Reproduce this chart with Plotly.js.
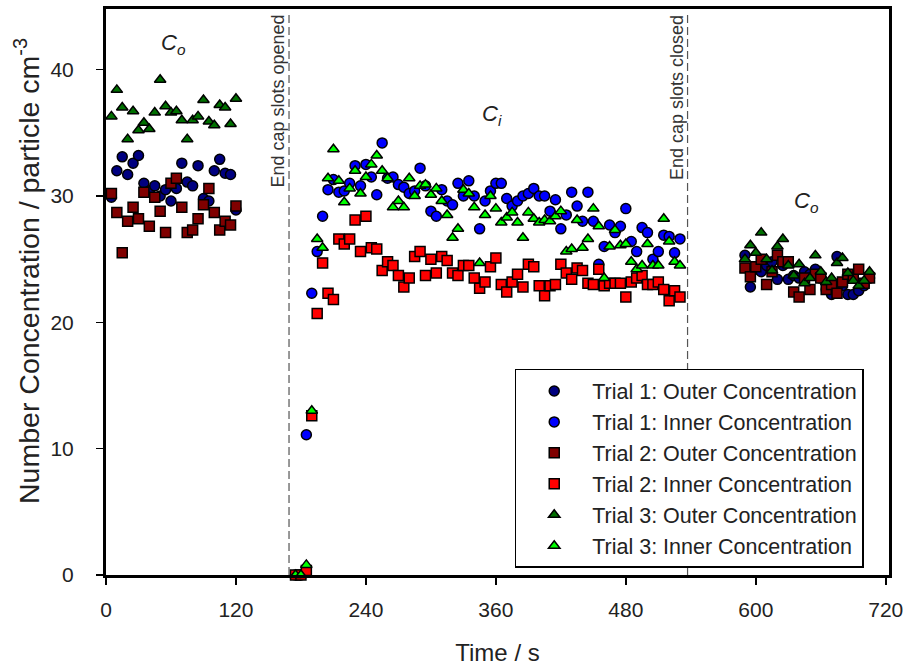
<!DOCTYPE html>
<html>
<head>
<meta charset="utf-8">
<script src="https://cdn.plot.ly/plotly-3.0.1.min.js"></script>
<style>html,body{margin:0;padding:0;background:#fff;}#chart{width:907px;height:666px;}</style>
</head>
<body>
<div id="chart"></div>
<script>
// Time points (s)
var tEarly = [5,10,15,20,25,30,35,40,45,50,55,60,65,70,75,80,85,90,95,100,105,110,115,120];
var tInner = [175,180,185,190,195,200,205,210,215,220,225,230,235,240,245,250,255,260,265,270,275,280,285,290,295,300,305,310,315,320,325,330,335,340,345,350,355,360,365,370,375,380,385,390,395,400,405,410,415,420,425,430,435,440,445,450,455,460,465,470,475,480,485,490,495,500,505,510,515,520,525,530];
var tLate = [590,595,600,605,610,615,620,625,630,635,640,645,650,655,660,665,670,675,680,685,690,695,700,705];

// Trial 1
var t1OuterEarly = [29.9,32.0,33.1,31.7,32.6,33.2,31.0,30.4,30.8,30.0,30.5,29.6,30.6,32.6,31.1,30.8,32.4,29.8,29.6,32.0,32.9,31.8,31.7,28.9];
var t1OuterLate = [25.3,22.8,24.2,24.0,24.5,24.8,23.4,24.5,23.4,23.7,23.5,24.0,23.8,24.2,23.5,22.6,22.2,25.2,22.9,22.2,22.2,22.5,22.9,23.5];
var t1Inner = [0,0,11.1,22.3,25.6,28.4,30.5,31.3,30.3,30.4,31.0,32.4,30.8,32.5,31.5,30.1,34.2,31.4,31.5,30.9,30.7,30.2,30.4,32.2,30.8,28.8,28.4,30.5,29.6,29.3,31.0,30.0,31.2,30.0,27.4,29.6,30.4,31.0,31.0,29.8,29.2,29.6,30.0,30.2,30.6,30.0,30.0,28.8,29.7,27.4,28.5,30.3,29.2,28.0,30.3,28.0,24.6,26.0,27.7,27.1,27.6,29.0,26.4,25.6,27.5,27.1,25.0,25.6,26.9,26.8,25.5,26.6];

// Trial 2
var t2OuterEarly = [30.2,28.7,25.5,28.0,29.1,28.2,30.3,27.6,29.9,28.8,27.1,31.0,31.4,29.1,27.1,27.3,28.2,29.3,30.6,28.7,27.3,28.0,27.7,29.2];
var t2OuterLate = [24.3,23.6,24.4,25.0,23.0,24.0,25.3,24.8,24.8,22.4,22.0,23.5,22.6,23.8,23.5,22.6,23.0,22.3,23.2,23.8,23.5,24.2,23.1,23.5];
var t2Inner = [0,0,0.35,12.6,20.7,24.7,22.3,21.8,26.6,26.2,26.6,28.1,25.6,28.4,25.9,25.8,24.1,24.8,24.5,23.7,22.8,23.5,25.2,25.6,23.7,25.0,23.9,25.2,24.9,23.9,23.7,24.5,24.5,23.5,22.7,23.2,24.4,25.1,23.0,22.4,23.2,23.8,22.8,24.6,24.4,22.9,22.1,22.9,23.0,24.6,23.9,23.4,24.3,24.1,23.1,23.0,24.2,22.9,23.1,23.1,23.1,22.0,23.2,23.5,23.7,23.0,23.0,23.2,22.6,21.7,22.5,22.0];

// Trial 3
var t3OuterEarly = [36.3,38.4,37.0,34.5,36.7,35.2,35.8,35.3,36.6,39.2,37.1,36.6,36.7,36.0,34.5,36.0,36.3,37.6,35.9,35.6,37.2,37.0,35.7,37.7];
var t3OuterLate = [25.0,26.1,25.5,27.1,25.0,24.1,26.0,26.6,24.5,23.7,24.6,23.1,23.5,25.3,24.0,23.2,23.5,24.7,25.1,23.9,23.3,22.9,23.3,24.0];
var t3Inner = [0,0,0.8,13.0,26.6,25.9,31.4,33.7,31.2,29.5,30.6,32.0,30.2,31.5,32.5,33.2,32.0,31.4,29.1,29.6,29.1,31.4,30.0,30.8,30.9,30.1,30.6,29.6,28.5,26.7,27.4,30.5,30.2,29.1,24.7,28.5,30.0,29.0,27.9,28.3,28.7,27.9,26.7,28.7,28.2,27.9,28.1,28.0,28.4,28.8,25.6,25.8,28.1,25.9,26.6,29.0,27.6,23.5,26.0,27.3,26.1,26.2,24.8,24.2,24.5,26.2,24.5,24.5,28.2,26.4,24.8,24.5];

var seriesNames = ['Trial 1: Outer Concentration','Trial 1: Inner Concentration','Trial 2: Outer Concentration','Trial 2: Inner Concentration','Trial 3: Outer Concentration','Trial 3: Inner Concentration'];
var eventTimes = [169, 537];
var eventLabels = ['End cap slots opened', 'End cap slots closed'];
var xTicks = [0,120,240,360,480,600,720];
var yTicks = [0,10,20,30,40];

var FONT = 'Arial, "Liberation Sans", sans-serif';

function mk(name, x, y, symbol, color) {
  return {
    type: 'scatter', mode: 'markers', name: name, x: x, y: y,
    cliponaxis: false,
    marker: {symbol: symbol, size: 10, color: color, line: {color: '#000', width: 1.5}}
  };
}

var data = [
  mk(seriesNames[0], tEarly.concat(tLate), t1OuterEarly.concat(t1OuterLate), 'circle', '#000080'),
  mk(seriesNames[1], tInner, t1Inner, 'circle', '#0000ff'),
  mk(seriesNames[2], tEarly.concat(tLate), t2OuterEarly.concat(t2OuterLate), 'square', '#800000'),
  mk(seriesNames[3], tInner, t2Inner, 'square', '#ff0000'),
  mk(seriesNames[4], tEarly.concat(tLate), t3OuterEarly.concat(t3OuterLate), 'triangle-up', '#007000'),
  mk(seriesNames[5], tInner, t3Inner, 'triangle-up', '#00ff00')
];

var shapes = eventTimes.map(function (t) {
  return {type: 'line', xref: 'x', yref: 'paper', x0: t, x1: t, y0: 0, y1: 0.99,
          layer: 'below', line: {color: '#555', width: 1.2, dash: '8px,4px'}};
});

var annotations = eventTimes.map(function (t, i) {
  return {x: t, y: 44.4, xref: 'x', yref: 'y', text: eventLabels[i], showarrow: false,
          textangle: -90, xanchor: 'right', yanchor: 'top', borderpad: 0,
          font: {family: FONT, size: 18, color: '#333'}};
});
annotations.push({x: 62, y: 42.0, xref: 'x', yref: 'y', text: '<i>C<sub>o</sub></i>', showarrow: false,
                  font: {family: FONT, size: 22, color: '#222'}});
annotations.push({x: 356, y: 36.4, xref: 'x', yref: 'y', text: '<i>C<sub>i</sub></i>', showarrow: false,
                  font: {family: FONT, size: 22, color: '#222'}});
annotations.push({x: 647, y: 29.5, xref: 'x', yref: 'y', text: '<i>C<sub>o</sub></i>', showarrow: false,
                  font: {family: FONT, size: 22, color: '#222'}});
// y-axis title (placed as rotated text to match the reference position)
annotations.push({xref: 'paper', yref: 'paper', x: -0.101, y: 0.537, xanchor: 'center', yanchor: 'middle',
                  text: 'Number Concentration / particle cm<sup>-3</sup>', textangle: -90, showarrow: false,
                  font: {family: FONT, size: 28.5, color: '#222'}});

var layout = {
  width: 907, height: 666,
  margin: {l: 106, r: 18, t: 9, b: 91},
  paper_bgcolor: '#fff', plot_bgcolor: '#fff',
  font: {family: FONT, color: '#222'},
  showlegend: true,
  legend: {
    x: 0.522, y: 0.364, xanchor: 'left', yanchor: 'top',
    bgcolor: '#fff', bordercolor: '#000', borderwidth: 1.5,
    font: {family: FONT, size: 21.5, color: '#222'},
    itemwidth: 66
  },
  xaxis: {
    range: [0, 723], tickvals: xTicks, ticktext: xTicks.map(String),
    showgrid: false, zeroline: false,
    showline: true, linecolor: '#000', linewidth: 3, mirror: true,
    ticks: 'outside', ticklen: 7, tickwidth: 1.5, tickcolor: '#000',
    tickfont: {family: FONT, size: 21, color: '#222'},
    ticklabelstandoff: 7,
    title: {text: 'Time / s', font: {family: FONT, size: 24, color: '#222'}, standoff: 24}
  },
  yaxis: {
    range: [0, 44.8], tickvals: yTicks, ticktext: yTicks.map(String),
    showgrid: false, zeroline: false,
    showline: true, linecolor: '#000', linewidth: 3, mirror: true,
    ticks: 'outside', ticklen: 7, tickwidth: 1.5, tickcolor: '#000',
    tickfont: {family: FONT, size: 21, color: '#222'},
    ticklabelstandoff: 18
  },
  shapes: shapes,
  annotations: annotations
};

Plotly.newPlot('chart', data, layout, {displayModeBar: false, staticPlot: true});
</script>
</body>
</html>
